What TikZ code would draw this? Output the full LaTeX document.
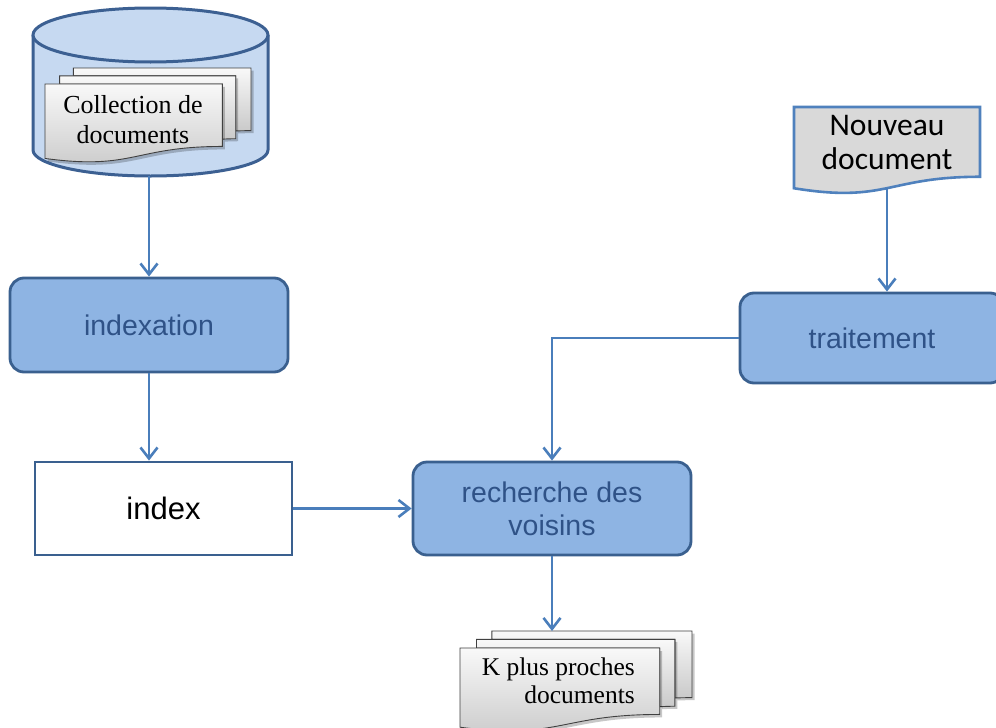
\documentclass[tikz,border=0pt]{standalone}
\usepackage{fontspec}
\setmainfont{Liberation Serif}
\setsansfont{Liberation Sans}
\newfontfamily\carlito{Carlito}
\usetikzlibrary{arrows.meta}
\definecolor{boxfill}{RGB}{142,180,227}
\definecolor{boxline}{RGB}{58,96,143}
\definecolor{boxtext}{RGB}{47,82,135}
\definecolor{connc}{RGB}{74,126,187}
\definecolor{cylfill}{RGB}{198,217,241}
\definecolor{cylline}{RGB}{60,96,146}
\definecolor{docfill}{RGB}{217,217,217}
\definecolor{docline}{RGB}{79,129,189}
\tikzset{
  proc/.style={draw=boxline, fill=boxfill, line width=2.8pt, rounded corners=14pt,
    font=\sffamily\fontsize{28.5}{33}\selectfont, text=boxtext, align=center, inner sep=0pt},
  conn/.style={draw=connc, line width=2.8pt, -{Straight Barb[length=11pt,width=17pt,line width=2.6pt]}},
  page/.style={draw=black!75, line width=0.9pt, top color=gray!5, bottom color=gray!42},
  pageshadow/.style={fill=black, opacity=0.22},
  doctext/.style={font=\rmfamily\fontsize{26}{30}\selectfont, inner sep=0pt},
}
\newcommand{\multidoc}[4]{%
  \begin{scope}[shift={(#1,-#2)}, x=#3pt, y=-#4pt]
    \fill[pageshadow, xshift=2.5pt, yshift=-2.5pt] (29.72,18.15) -- (29.72,0) -- (216,0) -- (216,143.92) .. controls (208,143.92) and (200,144.67) .. (200,144.67) -- (200,18.15) -- cycle;
    \path[page] (29.72,18.15) -- (29.72,0) -- (216,0) -- (216,143.92) .. controls (208,143.92) and (200,144.67) .. (200,144.67) -- (200,18.15) -- cycle;
    \fill[pageshadow, xshift=2.5pt, yshift=-2.5pt] (15.32,36.75) -- (15.32,18.15) -- (200,18.15) -- (200,162.52) .. controls (192.98,162.52) and (185.95,163.52) .. (185.95,163.52) -- (185.95,36.75) -- cycle;
    \path[page] (15.32,36.75) -- (15.32,18.15) -- (200,18.15) -- (200,162.52) .. controls (192.98,162.52) and (185.95,163.52) .. (185.95,163.52) -- (185.95,36.75) -- cycle;
    \fill[pageshadow, xshift=2.5pt, yshift=-3pt] (0,207.82) .. controls (92.98,235.42) and (92.98,180.22) .. (185.95,180.22) -- (185.95,36.75) -- (0,36.75) -- cycle;
    \path[page] (0,207.82) .. controls (92.98,235.42) and (92.98,180.22) .. (185.95,180.22) -- (185.95,36.75) -- (0,36.75) -- cycle;
  \end{scope}}
\begin{document}
\begin{tikzpicture}[x=1pt,y=1pt]
\useasboundingbox (0,0) rectangle (996,-728);
\clip (0,0) rectangle (996,-728);
\fill[white] (0,0) rectangle (996,-728);

% database cylinder
\fill[cylfill] (33,-35) -- (33,-150) arc[start angle=180,end angle=360,x radius=117.5pt,y radius=26pt] -- (268,-35) -- cycle;
\draw[cylline, line width=3pt] (33,-35) -- (33,-150) arc[start angle=180,end angle=360,x radius=117.5pt,y radius=26pt] -- (268,-35);
\draw[cylline, fill=cylfill, line width=3pt] (150.5,-35) ellipse[x radius=117.5pt, y radius=27pt];
\coordinate (dbbot) at (149,-176);

% collection of documents
\multidoc{45}{68}{0.9537}{0.43519}
\node[doctext, align=center] (collection) at (133,-120) {Collection de\\documents};

% process boxes
\node[proc, minimum width=278pt, minimum height=94pt] (indexation) at (149,-325) {indexation};
\node[draw=boxline, fill=white, line width=2.8pt, minimum width=257pt, minimum height=93pt,
  font=\sffamily\fontsize{31}{36}\selectfont, inner sep=0pt] (index) at (163.5,-508.5) {index};
\node[proc, minimum width=278pt, minimum height=93pt] (recherche) at (552,-508.5) {recherche des\\voisins};
\node[proc, minimum width=264pt, minimum height=90pt] (traitement) at (872,-338) {traitement};

% new document
\begin{scope}[shift={(794,-107)}, x=0.8611pt, y=-0.40278pt]
  \draw[draw=docline, fill=docfill, line width=2.6pt] (0,0) -- (216,0) -- (216,173.22) .. controls (108,173.22) and (108,239.22) .. (0,201.72) -- cycle;
\end{scope}
\node[font=\carlito\fontsize{31.5}{34}\selectfont, align=center, inner sep=0pt] (nouveau) at (887,-143) {Nouveau\\document};
\coordinate (nvbot) at (887,-188);

% K nearest documents
\multidoc{460}{631}{1.0741}{0.46296}
\node[doctext, align=right, anchor=east, font=\rmfamily\fontsize{25.5}{28}\selectfont] (kdocs) at (635,-681) {K plus proches\\documents};
\coordinate (ktop) at (552,-631);

% connectors
\draw[conn] (dbbot) -- (dbbot |- indexation.north);
\draw[conn] (indexation.south) -- (indexation.south |- index.north);
\draw[conn] (index.east) -- (recherche.west);
\draw[conn] (nvbot) -- (nvbot |- traitement.north);
\draw[conn] (traitement.west) -| (recherche.north);
\draw[conn] (recherche.south) -- (recherche.south |- ktop);
\end{tikzpicture}
\end{document}
